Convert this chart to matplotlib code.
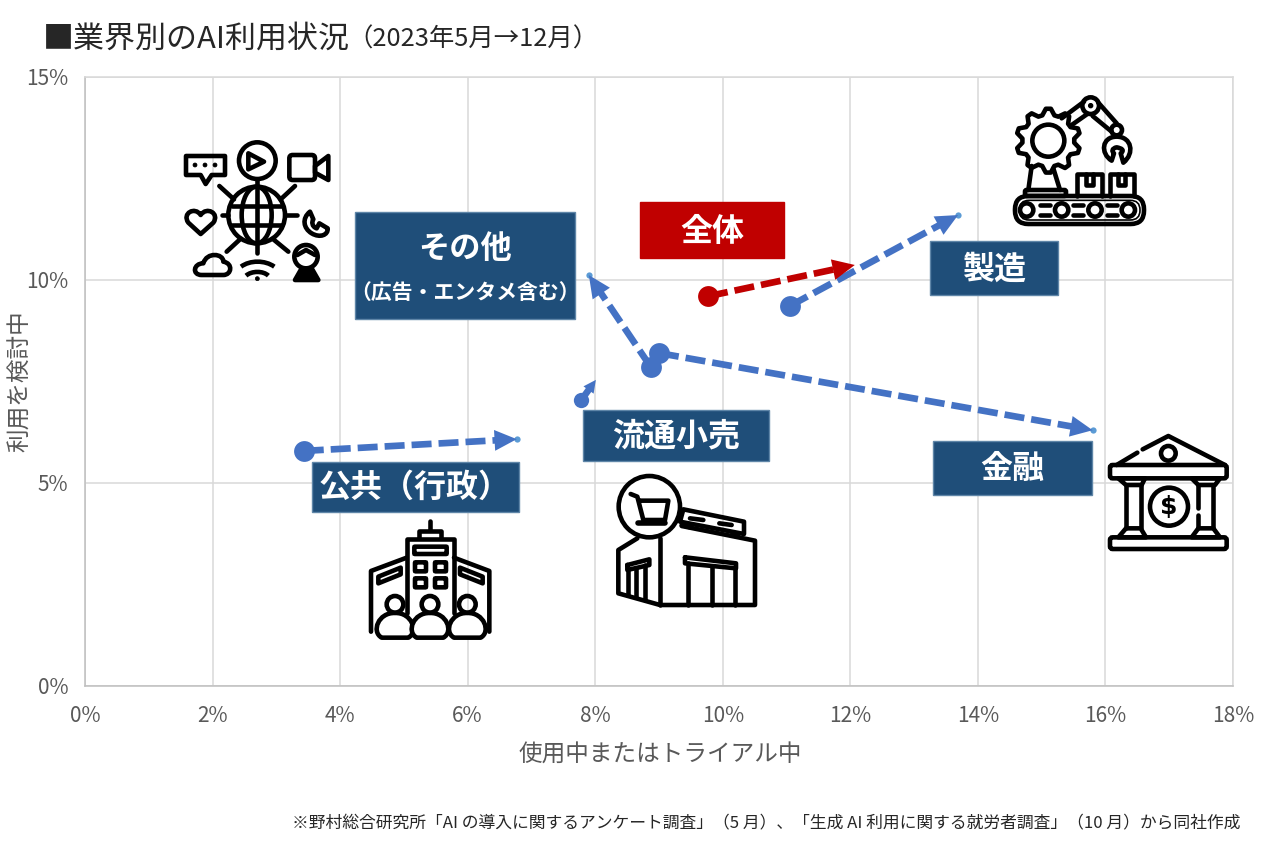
## LIBRARIES
import numpy as np
import matplotlib
matplotlib.use('Agg')
import matplotlib.pyplot as plt
from matplotlib.patches import Rectangle, Circle, Ellipse, Polygon, FancyBboxPatch, PathPatch
from matplotlib.path import Path
from matplotlib.transforms import Affine2D

plt.rcParams['font.family'] = ['Noto Sans CJK JP', 'DejaVu Sans']

# values, May -> December
names = ['全体', '製造', '金融', 'その他', '流通小売', '公共']
may_x = [9.77, 11.05, 9.00, 8.87, 7.78, 3.43]
may_y = [9.60, 9.36, 8.20, 7.86, 7.04, 5.79]
dec_x = [12.07, 13.69, 15.80, 7.90, 8.01, 6.77]
dec_y = [10.37, 11.60, 6.30, 10.12, 7.54, 6.08]

x_ticks = [0, 2, 4, 6, 8, 10, 12, 14, 16, 18]
y_ticks = [0, 5, 10, 15]

RED = '#C00000'
BLUE = '#4472C4'
NAVY = '#1F4E79'
GREY = '#595959'

fig = plt.figure(figsize=(12.66, 8.56), dpi=100)
fig.patch.set_facecolor('white')

# the chart itself
ax = fig.add_axes([85/1266, (856-686)/856, 1148/1266, 609/856])
ax.set_xlim(0, 18)
ax.set_ylim(0, 15)
ax.set_xticks(x_ticks)
ax.set_yticks(y_ticks)
ax.set_xticklabels([f'{t}%' for t in x_ticks])
ax.set_yticklabels([f'{t}%' for t in y_ticks])
ax.tick_params(length=0, labelsize=15, labelcolor=GREY)
ax.tick_params(axis='x', pad=14)
ax.tick_params(axis='y', pad=12)
ax.grid(color='#D9D9D9', lw=1.1)
ax.set_axisbelow(True)
for side in ['top', 'right']:
    ax.spines[side].set_color('#D9D9D9')
    ax.spines[side].set_linewidth(1.1)
for side in ['left', 'bottom']:
    ax.spines[side].set_color('#BFBFBF')
    ax.spines[side].set_linewidth(1.1)
ax.set_xlabel('使用中またはトライアル中', fontsize=17, color=GREY)
ax.set_ylabel('利用を検討中', fontsize=17, color=GREY)
ax.xaxis.set_label_coords(0.501, -0.095)
ax.yaxis.set_label_coords(-0.046, 0.50)

# the arrows
for i in range(len(names)):
    col = RED if names[i] == '全体' else BLUE
    small = names[i] == '流通小売'
    # stop the dashes where the head begins
    frac = 0.92
    if small:
        frac = 0.6
    elif names[i] == '金融':
        frac = 0.97
    elif names[i] == '公共':
        frac = 0.95
    lx = may_x[i] + (dec_x[i]-may_x[i])*frac
    ly = may_y[i] + (dec_y[i]-may_y[i])*frac
    ax.plot([may_x[i], lx], [may_y[i], ly], color=col, lw=4.8,
            dashes=(3.0, 1.05), dash_capstyle='butt', zorder=3)
    ax.plot(may_x[i], may_y[i], 'o', color=col, ms=11 if small else 15, mew=0, zorder=4)
    if col == BLUE and not small:
        ax.plot(dec_x[i], dec_y[i], 'o', color='#5B9BD5', ms=4.5, mew=0, zorder=4)
    head = 'head_length=9,head_width=4.5' if small else 'head_length=16,head_width=7.5'
    ax.annotate('', xy=(dec_x[i], dec_y[i]), xytext=(may_x[i], may_y[i]), zorder=4,
                arrowprops=dict(arrowstyle='-|>,' + head, mutation_scale=1,
                                shrinkA=0, shrinkB=0, lw=0, color=col))

# overlay in picture pixels for boxes, icons and the free text
ov = fig.add_axes([0, 0, 1, 1])
ov.set_xlim(0, 1266)
ov.set_ylim(856, 0)
ov.set_axis_off()
ov.patch.set_alpha(0)

ov.text(43, 39, '■業界別のAI利用状況', fontsize=22.3, color='#262626', va='center', ha='left')
ov.text(347, 40, '（2023年5月→12月）', fontsize=18.3, color='#262626', va='center', ha='left')
ov.text(1240, 824, '※野村総合研究所「AI の導入に関するアンケート調査」（5 月）、「生成 AI 利用に関する就労者調査」（10 月）から同社作成',
        fontsize=12.1, color='#262626', va='center', ha='right')


def box(x0, y0, x1, y1, col=NAVY, edge='#5F86A8'):
    ov.add_patch(Rectangle((x0, y0), x1-x0, y1-y0, fc=col, ec=edge, lw=1, zorder=5))


def label(x, y, s, size=23):
    ov.text(x, y, s, fontsize=size, color='white', fontweight='bold',
            ha='center', va='center', zorder=6)


box(355, 212, 575, 319)
label(465, 249, 'その他', 22.5)
label(465, 292, '（広告・エンタメ含む）', 15)
box(640, 202, 784, 258, RED, RED)
label(712, 232, '全体')
box(930, 241, 1058, 295)
label(995, 270, '製造')
box(583, 410, 769, 461)
label(676, 437, '流通小売')
box(312, 462, 519, 512)
label(415, 488, '公共（行政）')
box(933, 441, 1092, 495)
label(1012, 469, '金融')


# icon helpers, coordinates are in 3x crop units from the icon's corner
LW = 3.3
tr = None


def origin(x, y):
    global tr
    tr = Affine2D().scale(1/3).translate(x, y) + ov.transData


def line(*pts, lw=LW):
    xs, ys = zip(*pts)
    ov.plot(xs, ys, color='black', lw=lw, transform=tr, solid_capstyle='round',
            solid_joinstyle='round', zorder=5)


def poly(*pts, fill='none', lw=LW):
    ov.add_patch(Polygon(pts, closed=True, fc=fill, ec='black', lw=lw, transform=tr,
                         joinstyle='round', zorder=5))


def circ(x, y, r, fill='none', lw=LW):
    ov.add_patch(Circle((x, y), r, fc=fill, ec='black', lw=lw, transform=tr, zorder=5))


def rrect(x0, y0, x1, y1, r=8, lw=LW):
    ov.add_patch(FancyBboxPatch((x0+r, y0+r), x1-x0-2*r, y1-y0-2*r,
                                boxstyle=f'round,pad={r},rounding_size={r}',
                                fc='none', ec='black', lw=lw, transform=tr, zorder=5))


def curve(verts, codes, fill='none', lw=LW):
    ov.add_patch(PathPatch(Path(verts, codes), fc=fill, ec='black', lw=lw, transform=tr,
                           joinstyle='round', zorder=5))


M, L, C4, Z = Path.MOVETO, Path.LINETO, Path.CURVE4, Path.CLOSEPOLY

# media icon
origin(160, 130)
circ(292, 92, 55)
poly((265, 70), (265, 118), (312, 95))
line((292, 150), (292, 172))
circ(290, 255, 85)
ov.add_patch(Ellipse((290, 255), 90, 170, fc='none', ec='black', lw=LW, transform=tr, zorder=5))
line((290, 170), (290, 340))
line((215, 228), (365, 228))
line((215, 285), (365, 285))
for a, b in [((178, 168), (222, 208)), ((405, 168), (362, 208)), ((187, 255), (205, 255)),
             ((375, 255), (410, 255)), ((200, 365), (240, 328)), ((385, 365), (340, 328)),
             ((290, 345), (290, 370))]:
    line(a, b)
poly((78, 78), (195, 78), (195, 135), (155, 135), (137, 162), (122, 135), (78, 135))
for dx in [105, 135, 165]:
    circ(dx, 105, 6, 'black', 0.5)
rrect(388, 75, 465, 150, 10)
poly((465, 108), (505, 78), (505, 150), (465, 128))
curve([(122, 312), (85, 278), (65, 250), (105, 228), (122, 255), (140, 228), (180, 250), (160, 278), (122, 312), (122, 312)],
      [M, L, C4, C4, C4, C4, C4, C4, L, Z])
curve([(450, 245), (425, 265), (430, 295), (455, 310), (480, 325), (505, 315), (503, 295), (478, 280), (470, 295), (455, 290), (455, 275), (460, 268), (450, 245), (450, 245)],
      [M, C4, C4, C4, C4, C4, C4, L, L, C4, C4, C4, L, Z])
curve([(125, 435), (95, 435), (100, 400), (130, 400), (140, 365), (190, 370), (190, 395), (220, 400), (215, 435), (190, 435), (125, 435), (125, 435)],
      [M, C4, C4, C4, C4, C4, C4, C4, C4, C4, L, Z])
curve([(243, 410), (270, 390), (315, 390), (343, 410)], [M, C4, C4, C4])
curve([(258, 437), (275, 422), (310, 422), (325, 437)], [M, C4, C4, C4])
circ(292, 446, 6, 'black', 0.5)
circ(438, 380, 35)
poly((405, 450), (425, 415), (455, 415), (475, 450), fill='black')
line((412, 375), (438, 360), (465, 375))

# factory icon
origin(1000, 90)
angles = np.linspace(0, 2*np.pi, 41)[:-1]
radii = np.tile([78, 96, 96, 78], 10)
gx = 145 + radii*np.cos(angles + 0.08)
gy = 152 + radii*np.sin(angles + 0.08)
poly(*zip(gx, gy))
circ(145, 152, 48)
line((95, 228), (85, 300))
line((160, 235), (180, 300))
rrect(75, 300, 198, 318, 5)
line((185, 85), (252, 35))
line((215, 105), (262, 72))
circ(272, 47, 25)
circ(272, 47, 6, 'black', 1)
line((295, 38), (350, 100))
line((278, 78), (335, 125))
circ(350, 120, 16)
curve([(335, 212), (300, 190), (305, 140), (350, 140), (395, 140), (405, 190), (370, 218), (362, 190), (375, 180), (365, 175), (350, 172), (335, 175), (335, 185), (342, 190), (335, 212), (335, 212)],
      [M, C4, C4, C4, C4, C4, C4, L, C4, C4, C4, C4, C4, C4, L, Z])
line((232, 318), (232, 252), (305, 252), (305, 318))
line((258, 252), (258, 285), (278, 285), (278, 252))
line((330, 318), (330, 252), (402, 252), (402, 318))
line((355, 252), (355, 285), (375, 285), (375, 252))
rrect(45, 318, 432, 402, 40)
rrect(58, 331, 420, 390, 29, lw=1.2)
for wx in [80, 185, 285, 385]:
    circ(wx, 360, 20)
for dx in [120, 220, 320]:
    line((dx, 345), (dx+30, 345))
    line((dx, 375), (dx+30, 375))

# shop icon
origin(600, 470)
circ(148, 110, 92, 'white')
line((92, 72), (112, 80), (130, 150), (195, 150), (205, 92), (118, 92))
line((115, 158), (195, 158), lw=4)
poly((250, 118), (432, 155), (432, 192), (240, 155))
line((270, 145), (310, 150))
line((358, 160), (395, 165))
line((245, 165), (270, 172))
line((395, 195), (415, 200))
line((112, 205), (55, 240), (55, 370), (180, 405), (465, 405), (465, 212), (245, 168))
line((180, 205), (180, 405))
line((255, 262), (408, 280), (408, 295), (255, 280), (255, 262))
line((265, 280), (265, 405))
line((335, 290), (335, 405))
line((405, 295), (405, 405))
line((82, 285), (148, 268), (148, 285), (82, 300), (82, 285))
line((85, 300), (85, 375))
line((108, 295), (108, 382))
line((135, 285), (135, 390))

# government icon
origin(360, 515)
line((210, 18), (210, 45))
line((178, 70), (178, 47), (242, 47), (242, 70))
line((140, 295), (140, 72), (282, 72), (282, 295))
rrect(163, 95, 260, 117, 2)
for wx, wy in [(165, 142), (225, 142), (165, 190), (225, 190)]:
    rrect(wx, wy, wx+33, wy+27, 2)
line((140, 128), (33, 168), (33, 350))
line((282, 128), (388, 168), (388, 350))
poly((55, 185), (122, 158), (122, 178), (55, 205))
poly((300, 158), (368, 185), (368, 205), (300, 178))
for px in [105, 210, 322]:
    circ(px, 268, 25)
    curve([(px-40, 368), (px-72, 350), (px-50, 292), (px, 294), (px+50, 292), (px+72, 350), (px+40, 368), (px-40, 368), (px-40, 368)],
          [M, C4, C4, C4, C4, C4, C4, L, Z], fill='white')

# bank icon
origin(1100, 430)
line((50, 105), (112, 68))
line((128, 58), (205, 18), (375, 105))
circ(205, 70, 22)
rrect(30, 105, 380, 145, 8)
poly((55, 145), (78, 165), (125, 165), (135, 145))
poly((275, 145), (295, 165), (345, 165), (360, 145))
line((78, 165), (78, 295))
line((122, 165), (122, 295))
line((295, 165), (295, 235))
line((295, 255), (295, 295))
line((340, 165), (340, 295))
poly((55, 322), (78, 295), (122, 295), (138, 322))
poly((275, 322), (295, 295), (340, 295), (360, 322))
rrect(30, 322, 380, 357, 8)
circ(207, 230, 57)
ov.text(207, 232, '$', fontsize=18, fontweight='bold', color='black', family='DejaVu Sans',
        ha='center', va='center', transform=tr, zorder=5)

fig.savefig('out.png', dpi=100)
